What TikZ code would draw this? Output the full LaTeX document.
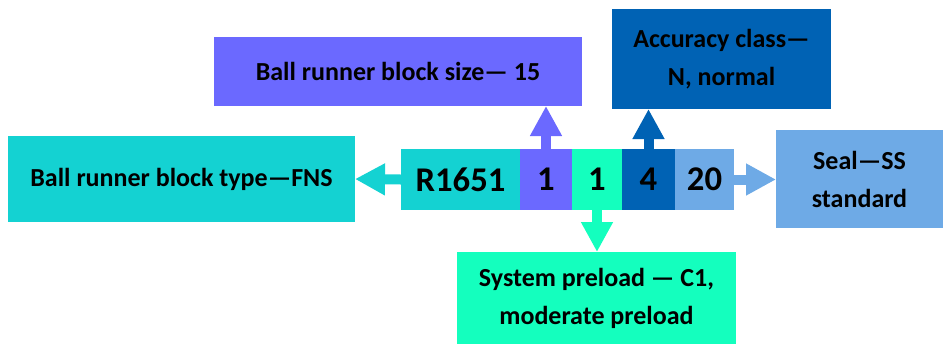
\documentclass[tikz,border=0pt]{standalone}
\usepackage{fontspec}
\setmainfont{Carlito}
\usetikzlibrary{positioning,arrows.meta}

\definecolor{cturq}{RGB}{20,210,210}
\definecolor{cpurple}{RGB}{107,105,255}
\definecolor{caqua}{RGB}{20,255,190}
\definecolor{cdark}{RGB}{0,98,180}
\definecolor{clight}{RGB}{110,170,230}
\def\pu{0.75pt}

\tikzset{
  seg/.style={inner sep=0pt,outer sep=0pt,minimum height=61*\pu,
    font=\fontsize{26}{30}\selectfont\bfseries},
  infobox/.style={inner sep=0pt,outer sep=0pt,align=center,
    font=\fontsize{19.5}{28.5}\selectfont\bfseries},
  blockarrow/.style={line width=10*\pu,
    -{Triangle[width=30*\pu,length=30*\pu]}}
}

\begin{document}
\begin{tikzpicture}[x=0.75pt,y=-0.75pt]
\useasboundingbox (0,0) rectangle (943,344);

% code strip
\node[seg,fill=cturq,minimum width=119*\pu] (s1) at (460.5,179.5) {R1651};
\node[seg,fill=cpurple,minimum width=52*\pu,right=0pt of s1] (s2) {1};
\node[seg,fill=caqua,minimum width=50*\pu,right=0pt of s2] (s3) {1};
\node[seg,fill=cdark,minimum width=53*\pu,right=0pt of s3] (s4) {4};
\node[seg,fill=clight,minimum width=59*\pu,right=0pt of s4] (s5) {20};

% meaning of each part
\node[infobox,fill=cturq,minimum width=347*\pu,minimum height=86*\pu] (type) at (181.5,179) {Ball runner block type---FNS};
\node[infobox,fill=cpurple,minimum width=368*\pu,minimum height=69*\pu] (size) at (398,71.5) {Ball runner block size--- 15};
\node[infobox,fill=caqua,minimum width=279*\pu,minimum height=92*\pu] (preload) at (596.5,298) {System preload --- C1,\\moderate preload};
\node[infobox,fill=cdark,minimum width=219*\pu,minimum height=100*\pu] (acc) at (721.5,59) {Accuracy class---\\N, normal};
\node[infobox,fill=clight,minimum width=167*\pu,minimum height=98*\pu] (seal) at (859.5,179) {Seal---SS\\standard};

\draw[blockarrow,cturq] (s1.west) -- (type.east);
\draw[blockarrow,cpurple] (s2.north) -- (s2.north |- size.south);
\draw[blockarrow,caqua] (s3.south) -- (s3.south |- preload.north);
\draw[blockarrow,cdark] (s4.north) -- (s4.north |- acc.south);
\draw[blockarrow,clight] (s5.east) -- (s5.east -| seal.west);
\end{tikzpicture}
\end{document}
